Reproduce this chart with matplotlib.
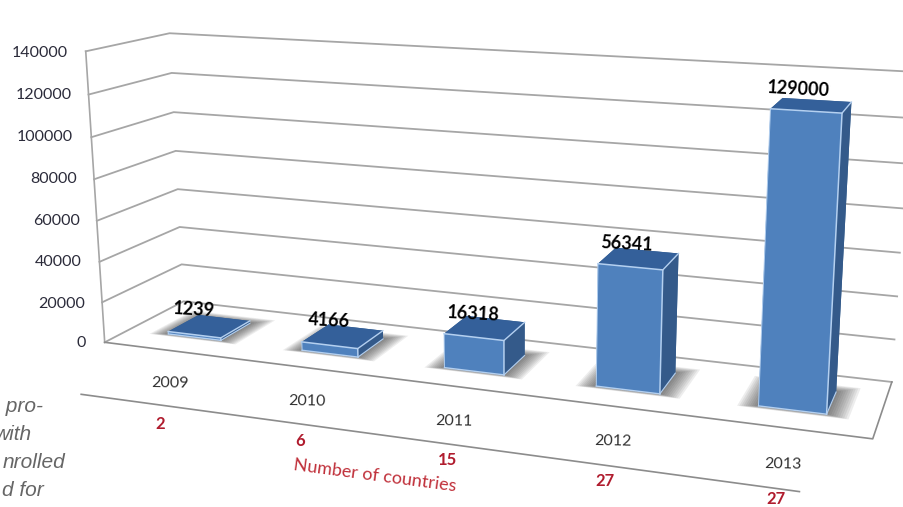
import matplotlib
matplotlib.use('Agg')
import matplotlib.pyplot as plt
from mpl_toolkits.mplot3d.art3d import Poly3DCollection

years = ['2009', '2010', '2011', '2012', '2013']
participants = [1239, 4166, 16318, 56341, 129000]
countries = ['2', '6', '15', '27', '27']
y_ticks = [0, 20000, 40000, 60000, 80000, 100000, 120000, 140000]

W, H = 904, 507
plt.rcParams['font.family'] = ['Lato', 'DejaVu Sans']

fig = plt.figure(figsize=(W / 100, H / 100), dpi=100, facecolor='white')
side = 1100
ax = fig.add_axes([-21 / W, -260 / H, side / W, side / H], projection='3d',
                  proj_type='persp', focal_length=0.257, computed_zorder=False)
ax.set_axis_off()
ax.patch.set_visible(False)
ax.view_init(elev=13.5, azim=-71.4, roll=-0.3)
ax.set_xlim(0.391, 5.391, view_margin=0)
ax.set_ylim(0, 1, view_margin=0)
ax.set_zlim(8233, 148233, view_margin=0)
ax.set_box_aspect((0.4956, 0.096, 0.1913), zoom=0.7825)

grid_c = '#a6a6a6'
n = len(years)

# walls
for v in y_ticks:
    ax.plot([0, 0, n], [0, 1, 1], [v, v, v], color=grid_c, lw=1.3, zorder=1)
ax.plot([0, 0], [0, 0], [0, 140000], color=grid_c, lw=1.2, zorder=1)
ax.plot([0, n, n], [0, 0, 1], [0, 0, 0], color='#8c8c8c', lw=1.2, zorder=1)
# line under the year labels
ax.plot([0.43, 4.73], [-0.9, -0.87], [0, 0], color='#8c8c8c', lw=1.2, zorder=1)

bar_w = 0.4
y0, y1 = 0.3, 0.7
for i, v in enumerate(participants):
    x0 = i + 0.5 - bar_w / 2
    x1 = x0 + bar_w
    # soft shadow on the floor
    for k in range(10):
        m = 0.012 * (k + 1)
        sx0, sx1 = x0 - m, x1 + m * 1.1
        sy0, sy1 = y0 - m * 0.35, y1 + m * 1.0
        shadow = Poly3DCollection([[(sx0, sy0, 0), (sx1, sy0, 0), (sx1, sy1, 0), (sx0, sy1, 0)]],
                                  facecolor=(0.22, 0.22, 0.22, 0.085), edgecolor='none', zorder=2)
        ax.add_collection3d(shadow)
    faces = ['#35608f', '#34609a', '#4f81bd', '#35608f', '#35608f', '#345a8a']
    ax.bar3d(x0, y0, 0, bar_w, y1 - y0, v, color=faces, shade=False, zorder=3)
    edge = '#b4d0f0'
    ax.plot([x0, x1, x1], [y0, y0, y0], [v, v, 0], color=edge, lw=1.1, zorder=4)
    ax.plot([x1, x1], [y0, y1], [v, v], color=edge, lw=1.0, zorder=4)
    ax.plot([x1, x1], [y0, y1], [0, 0], color=edge, lw=0.8, zorder=4)
    ax.plot([x0, x1], [y0, y0], [0, 0], color=edge, lw=1.0, zorder=4)
    ax.plot([x0, x0], [y0, y0], [0, v], color=edge, lw=0.7, zorder=4)


def px_text(x, y, s, **kw):
    kw.setdefault('ha', 'center')
    kw.setdefault('va', 'center')
    fig.text(x / W, 1 - y / H, s, **kw)


tick_right = [86, 85, 82, 80, 77, 73, 72, 68]
tick_y = [343, 304, 262, 221, 179, 137, 95, 53]
for v, xr, yy in zip(y_ticks, tick_right, tick_y):
    px_text(xr, yy, str(v), ha='right', fontsize=11.5, color='#2b2b3a')

label_xy = [(194, 310), (329, 321), (473, 314), (627, 244), (798, 89)]
for v, (xx, yy) in zip(participants, label_xy):
    px_text(xx, yy, str(v), fontsize=13, fontweight='bold', color='black', rotation=-3)

year_xy = [(170, 383), (307, 401), (454, 421), (613, 441), (783, 464)]
for s, (xx, yy) in zip(years, year_xy):
    px_text(xx, yy, s, fontsize=11.5, color='#333333', rotation=-1)

count_xy = [(160, 424), (300, 441), (447, 460), (605, 481), (776, 499)]
for s, (xx, yy) in zip(countries, count_xy):
    px_text(xx, yy, s, fontsize=12, fontweight='bold', color='#b01c2e')

px_text(375, 476, 'Number of countries', fontsize=13, color='#c0303a', rotation=-7.5)

body = [(' pro-', 43, 406), ('with', 32, 434), ('nrolled', 65, 462), ('d for', 44, 490)]
for s, xr, yy in body:
    px_text(xr, yy, s, ha='right', fontsize=15, style='italic', color='#666666',
            family='Liberation Sans')

fig.savefig('out.png', dpi=100)
